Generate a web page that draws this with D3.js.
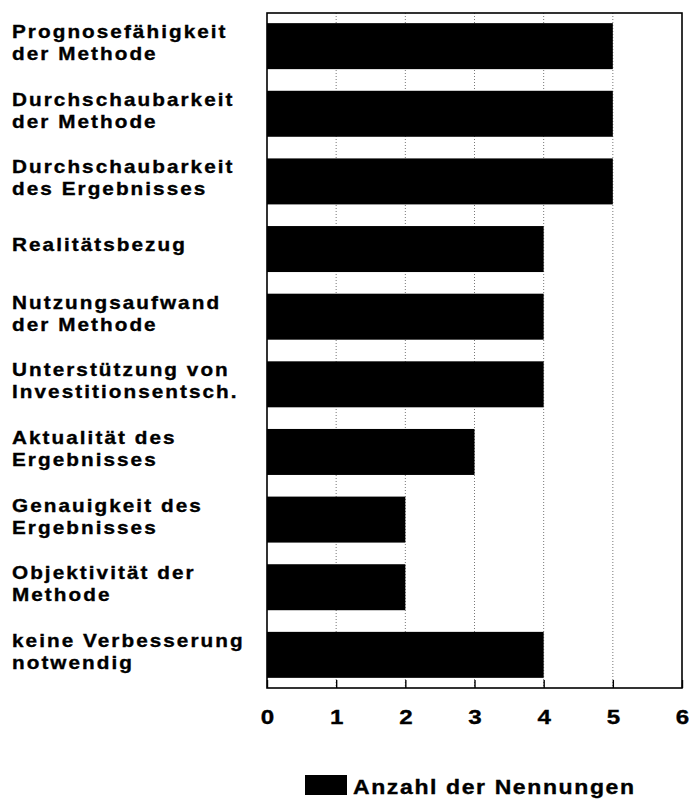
<!DOCTYPE html>
<html>
<head>
<meta charset="utf-8">
<script src="https://d3js.org/d3.v7.min.js"></script>
<style type="text/css">
body {
	margin: 0;
	background: #ffffff;
}
text {
	font-family: "Liberation Sans", Arial, Helvetica, sans-serif;
	font-weight: bold;
	fill: #000000;
	stroke: #000000;
	stroke-width: 0.35px;
}
</style>
</head>
<body>
<div id="svg"></div>
<script type="text/javascript">
// labels, each split in the lines as printed
var categories = [
	["Prognosefähigkeit", "der Methode"],
	["Durchschaubarkeit", "der Methode"],
	["Durchschaubarkeit", "des Ergebnisses"],
	["Realitätsbezug"],
	["Nutzungsaufwand", "der Methode"],
	["Unterstützung von", "Investitionsentsch."],
	["Aktualität des", "Ergebnisses"],
	["Genauigkeit des", "Ergebnisses"],
	["Objektivität der", "Methode"],
	["keine Verbesserung", "notwendig"]
];
var values = [5, 5, 5, 4, 4, 4, 3, 2, 2, 4];
var xTicks = [0, 1, 2, 3, 4, 5, 6];
var seriesName = "Anzahl der Nennungen";

var width = 689;
var height = 802;
var plotLeft = 267;
var plotRight = 682;
var plotTop = 13;
var plotBottom = 688;
var widen = 1.15; // the printed type is wider than Helvetica

var svg = d3.select("#svg")
	.append("svg")
	.attr("width", width)
	.attr("height", height);

var x = d3.scaleLinear()
	.domain([0, 6])
	.range([plotLeft, plotRight]);

var y = d3.scaleBand()
	.domain(d3.range(categories.length))
	.range([plotTop, plotBottom])
	.paddingInner(0.32)
	.paddingOuter(0.15);

// dotted grid lines behind the bars
svg.append("g")
	.selectAll("line")
	.data(xTicks.slice(1, -1))
	.enter()
	.append("line")
	.attr("x1", function(d) { return x(d); })
	.attr("x2", function(d) { return x(d); })
	.attr("y1", plotTop)
	.attr("y2", plotBottom)
	.attr("stroke", "#777777")
	.attr("stroke-width", 1)
	.attr("stroke-dasharray", "1,2");

svg.append("g")
	.selectAll("rect")
	.data(values)
	.enter()
	.append("rect")
	.attr("x", x(0))
	.attr("y", function(d, i) { return y(i); })
	.attr("width", function(d) { return x(d) - x(0); })
	.attr("height", y.bandwidth())
	.attr("fill", "#000000");

// frame
svg.append("rect")
	.attr("x", plotLeft)
	.attr("y", plotTop)
	.attr("width", plotRight - plotLeft)
	.attr("height", plotBottom - plotTop)
	.attr("fill", "none")
	.attr("stroke", "#000000")
	.attr("stroke-width", 1.6);

// bottom axis, ticks pointing inward
var xAxis = d3.axisBottom(x)
	.tickValues(xTicks)
	.tickSize(-8)
	.tickPadding(21)
	.tickFormat(d3.format("d"));

var gAxis = svg.append("g")
	.attr("transform", "translate(0," + plotBottom + ")")
	.call(xAxis);
gAxis.select(".domain").remove();
gAxis.selectAll("line")
	.attr("stroke", "#000000")
	.attr("stroke-width", 1.4);
gAxis.selectAll("text")
	.attr("font-size", "21px")
	.attr("font-family", "'Liberation Sans', Arial, sans-serif")
	.attr("font-weight", "bold")
	.attr("fill", "#000000")
	.attr("transform", "scale(" + widen + ",1)");

// category labels, left aligned
var gLabels = svg.append("g")
	.attr("transform", "translate(12,0) scale(" + widen + ",1)");
categories.forEach(function(lines, i) {
	var top = y(i);
	var t = gLabels.append("text")
		.attr("x", 0)
		.attr("font-size", "18px")
		.style("letter-spacing", "1.8px");
	if (lines.length == 1) {
		t.append("tspan").attr("x", 0).attr("y", top + 25).text(lines[0]);
	} else {
		t.append("tspan").attr("x", 0).attr("y", top + 15).text(lines[0]);
		t.append("tspan").attr("x", 0).attr("y", top + 37).text(lines[1]);
	}
});

// legend
svg.append("rect")
	.attr("x", 305)
	.attr("y", 775)
	.attr("width", 42)
	.attr("height", 20)
	.attr("fill", "#000000");

svg.append("text")
	.attr("transform", "translate(353,794) scale(" + widen + ",1)")
	.attr("font-size", "20px")
	.style("letter-spacing", "1.4px")
	.text(seriesName);
</script>
</body>
</html>
